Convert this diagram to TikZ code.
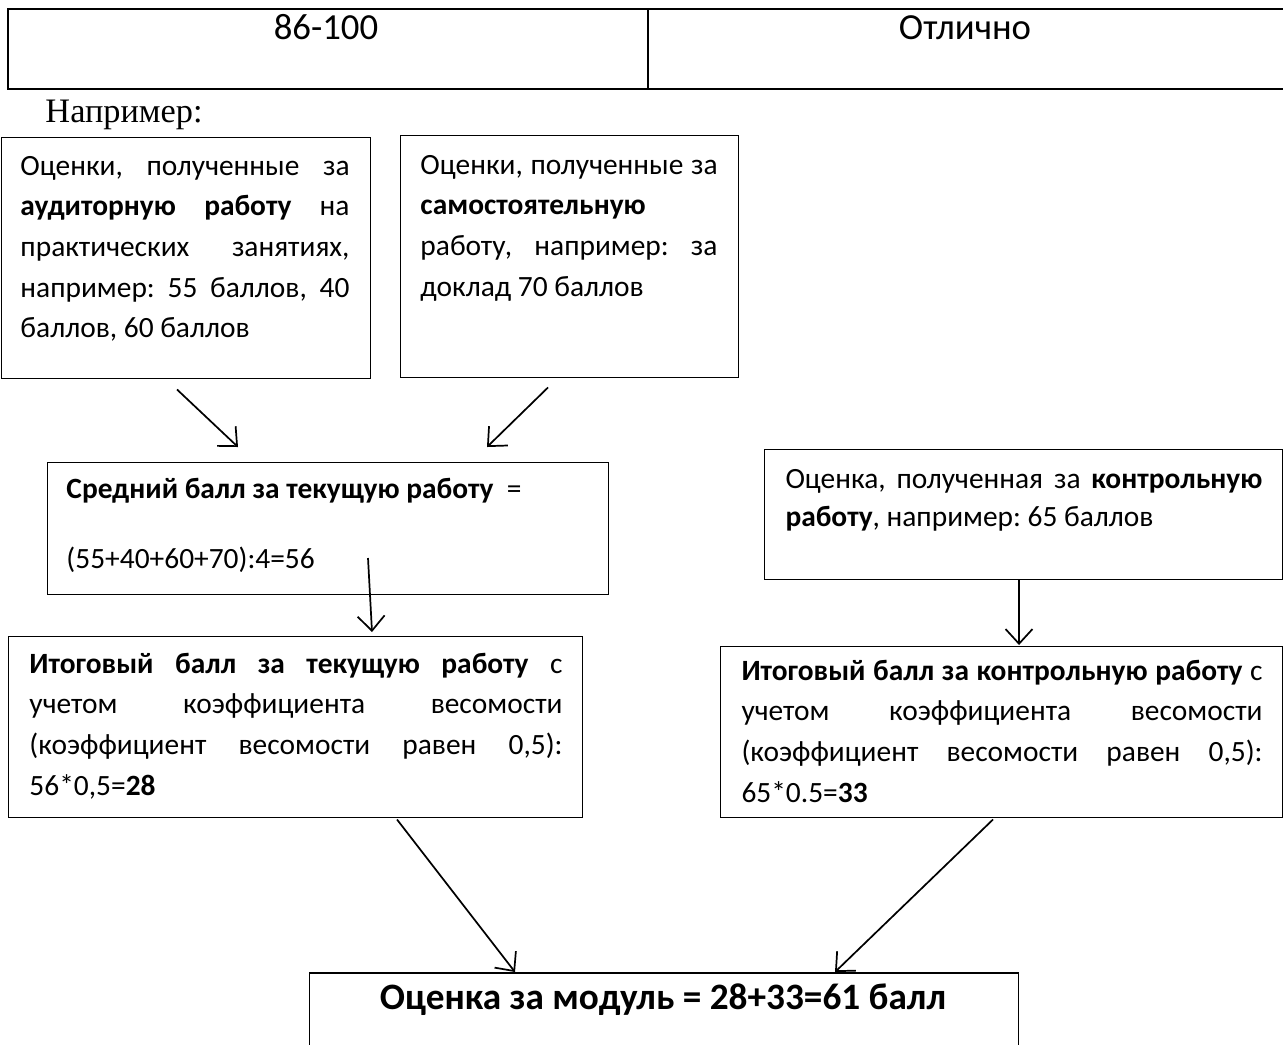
\documentclass[tikz,border=0pt]{standalone}
\usepackage{fontspec}
\setmainfont{Carlito}
\newfontfamily\timesfont{Liberation Serif}
\usetikzlibrary{arrows.meta}
\newlength{\px}
\setlength{\px}{0.408pt}
\hyphenpenalty=10000
\exhyphenpenalty=10000
\frenchspacing

\begin{document}
\begin{tikzpicture}[x=\px, y=-\px,
    tbl/.style={line width=1pt},
    box/.style={draw, line width=0.6pt, inner sep=0pt, anchor=north west},
    txt/.style={inner sep=0pt, anchor=base west, align=justify, font=\fontsize{12}{16.6}\selectfont},
    arr/.style={line width=0.7pt, -{Straight Barb[length=6pt,width=11pt]}}]
  \useasboundingbox (0,0) rectangle (1283,1044);

  % Drawing table row
  \draw [tbl] (8,9) rectangle (1295,89);%
  \draw [tbl] (648,9) -- (648,89);%
  \node [anchor=base] (range) at (326,39) {\fontsize{15}{18}\selectfont 86-100};%
  \node [anchor=base] (mark) at (965,39) {\fontsize{15}{18}\selectfont Отлично};%

  % Marking heading
  \node [anchor=base west, inner sep=0pt] (example) at (45,122) {\timesfont\fontsize{14}{17}\selectfont Например:};%

  % Drawing box aud
  \node [box, minimum width=369\px, minimum height=241\px] (aud) at (1,137) {};%
  \node [txt, text width=329\px] (audtxt) at ([shift={(19,38)}]aud.north west)
    {Оценки, полученные за\linebreak \textbf{аудиторную работу} на\linebreak практических занятиях,\linebreak например: 55 баллов, 40\linebreak баллов, 60 баллов};%

  % Drawing box sam
  \node [box, minimum width=338\px, minimum height=242\px] (sam) at (400,135) {};%
  \node [txt, text width=297\px] (samtxt) at ([shift={(20,39)}]sam.north west)
    {Оценки, полученные за\linebreak \textbf{самостоятельную}\linebreak работу, например: за\linebreak доклад 70 баллов};%

  % Drawing box mid
  \node [box, minimum width=561\px, minimum height=132\px] (mid) at (47,462) {};%
  \node [txt, text width=520\px, align=flush left, font=\fontsize{12}{28.6}\selectfont] (midtxt) at ([shift={(19,36)}]mid.north west)
    {\textbf{Средний балл за текущую работу}\ \ =\\ (55+40+60+70):4=56};%

  % Drawing box ctl
  \node [box, minimum width=518\px, minimum height=130\px] (ctl) at (764,449) {};%
  \node [txt, text width=477\px, font=\fontsize{12}{15.5}\selectfont] (ctltxt) at ([shift={(21,39)}]ctl.north west)
    {Оценка, полученная за \textbf{контрольную}\linebreak \textbf{работу}, например: 65 баллов};%

  % Drawing box cur
  \node [box, minimum width=574\px, minimum height=181\px] (cur) at (8,636) {};%
  \node [txt, text width=533\px, font=\fontsize{12}{16.7}\selectfont] (curtxt) at ([shift={(21,37)}]cur.north west)
    {\textbf{Итоговый балл за текущую работу} с\linebreak учетом коэффициента весомости\linebreak (коэффициент весомости равен 0,5):\linebreak 56*0,5=\textbf{28}};%

  % Drawing box ctlres
  \node [box, minimum width=562\px, minimum height=171\px] (ctlres) at (720,646) {};%
  \node [txt, text width=521\px, font=\fontsize{12}{16.7}\selectfont] (ctlrestxt) at ([shift={(21,34)}]ctlres.north west)
    {\textbf{Итоговый балл за контрольную работу} с\linebreak учетом коэффициента весомости\linebreak (коэффициент весомости равен 0,5):\linebreak 65*0.5=\textbf{33}};%

  % Drawing box fin
  \node [box, minimum width=709\px, minimum height=100\px] (fin) at (309,972) {};%
  \node [anchor=base, inner sep=0pt] (fintxt) at ([shift={(354,37)}]fin.north west)
    {\fontsize{15.2}{18}\selectfont\bfseries Оценка за модуль = 28+33=61 балл};%

  % Drawing arrows
  \draw [arr] ([shift={(176,10)}]aud.south west) -- ([shift={(191,-15)}]mid.north west);%
  \draw [arr] ([shift={(148,9)}]sam.south west) -- ([shift={(440,-15)}]mid.north west);%
  \draw [arr] ([shift={(321,96)}]mid.north west) -- ([shift={(364,-4)}]cur.north west);%
  \draw [arr] ([shift={(255,0)}]ctl.south west) -- ([shift={(299,-1)}]ctlres.north west);%
  \draw [arr] ([shift={(389,1)}]cur.south west) -- ([shift={(206,0)}]fin.north west);%
  \draw [arr] ([shift={(273,1)}]ctlres.south west) -- ([shift={(526,0)}]fin.north west);%
\end{tikzpicture}
\end{document}
